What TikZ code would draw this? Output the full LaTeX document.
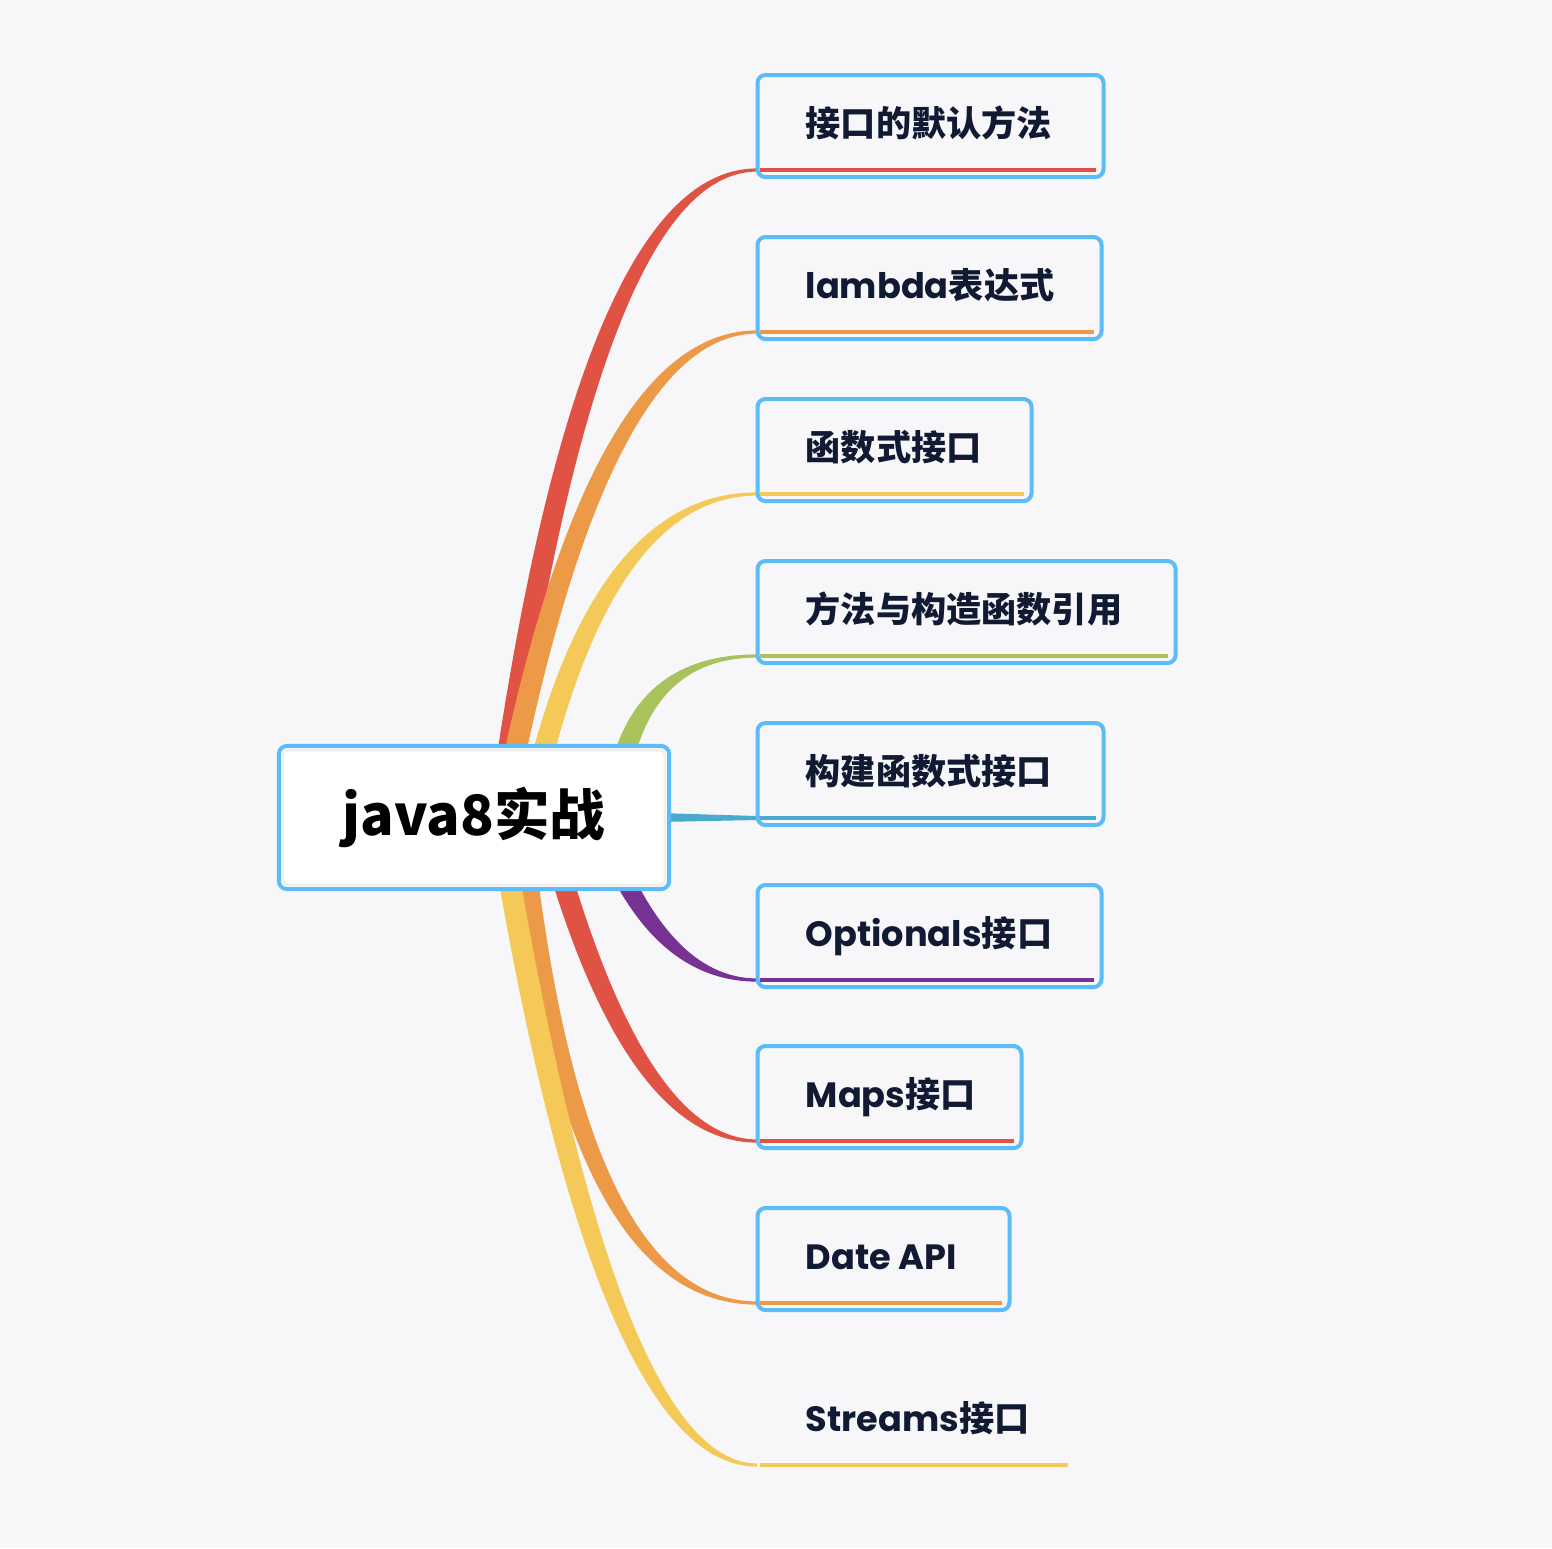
\documentclass[tikz,border=0pt]{standalone}
\usepackage{fontspec}
\usetikzlibrary{calc,backgrounds}
\setmainfont{Poppins}
\newfontfamily\cjk{Noto Sans CJK SC}
\definecolor{paper}{HTML}{F7F7F9}
\definecolor{boxblue}{HTML}{5CBCF7}
\definecolor{ink}{HTML}{101B33}
\definecolor{cRed}{HTML}{E05243}
\definecolor{cOrange}{HTML}{EC9A48}
\definecolor{cYellow}{HTML}{F5C957}
\definecolor{cGreen}{HTML}{A8C35B}
\definecolor{cBlue}{HTML}{4BA9CF}
\definecolor{cPurple}{HTML}{783293}
\tikzset{
  rootbox/.style={draw=boxblue, line width=0.04cm, fill=white, rounded corners=0.08cm,
    minimum width=3.9cm, minimum height=1.43cm, inner sep=0pt,
    font=\cjk\bfseries\fontsize{15.8}{20}\selectfont},
  childbox/.style={draw=boxblue, line width=0.04cm, rounded corners=0.08cm,
    minimum height=1.02cm, anchor=north west, inner sep=0pt},
  topic/.style={anchor=west, inner sep=0pt, text=ink, text height=0.8em, text depth=0.2em,
    font=\bfseries\fontsize{10}{12}\selectfont},
  uline/.style={line width=0.04cm}
}
\newcommand\tipw{1.6}
\newcommand\basew{11}

\begin{document}
\begin{tikzpicture}[x=0.01cm, y=-0.01cm]
\useasboundingbox (0,0) rectangle (1552,1548);
\node[rootbox] (root) at (474,817.5) {java8实战};
\draw[draw=black!6, line width=0.03cm, rounded corners=0.06cm]
  ([shift={(6,6)}]root.north west) rectangle ([shift={(-6,-6)}]root.south east);

\begin{scope}[on background layer]
\fill[paper] (0,0) rectangle (1552,1548);
% curved branches
\foreach \i/\ye/\sx/\cx/\sg/\col in {1/170/499/588/-1/cRed, 2/332/502/595/-1/cOrange,
    3/494/528/596/-1/cYellow, 4/656/614/625/-1/cGreen, 6/980/598/655/1/cPurple,
    7/1141/545/630/1/cRed, 8/1303/520/570/1/cOrange, 9/1465/499/604/1/cYellow}{
  \pgfmathsetmacro\dy{\sg*\tipw}
  \pgfmathsetmacro\ndy{-1*(\sg)*\tipw}
  \pgfmathsetmacro\dyy{2/3*\sg*\tipw}
  \pgfmathsetmacro\ndyy{-2/3*(\sg)*\tipw}
  \coordinate (s\i) at ($(root.center)+(\sx-474,0)$);
  \coordinate (k\i) at (\cx,\ye);
  \coordinate (e\i) at (757,\ye);
  \fill[\col] ($(s\i)+(-\basew,0)$)
    .. controls ($(s\i)!2/3!(k\i)+(-\basew,\dyy)$) and ($(e\i)!2/3!(k\i)+({-2/3*\basew},\dy)$)
    .. ($(e\i)+(0,\dy)$) -- ($(e\i)+(0,\ndy)$)
    .. controls ($(e\i)!2/3!(k\i)+({2/3*\basew},\ndy)$) and ($(s\i)!2/3!(k\i)+(\basew,\ndyy)$)
    .. ($(s\i)+(\basew,0)$) -- cycle;
}
% straight branch
\coordinate (e5) at (757,818);
\fill[cBlue] ($(root.east)+(-12,-4.5)$) -- ($(e5)+(0,-2)$) -- ($(e5)+(4,-2)$)
  -- ($(e5)+(4,2)$) -- ($(e5)+(0,2)$) -- ($(root.east)+(-12,4.5)$) -- cycle;
\end{scope}

% topics
\foreach \i/\ye/\bw/\col/\txt in {1/170/346/cRed/{\cjk 接口的默认方法},
    2/332/344/cOrange/{lambda{\cjk 表达式}}, 3/494/274/cYellow/{\cjk 函数式接口},
    4/656/418/cGreen/{\cjk 方法与构造函数引用}, 5/818/346/cBlue/{\cjk 构建函数式接口},
    6/980/344/cPurple/{Optionals{\cjk 接口}}, 7/1141/264/cRed/{Maps{\cjk 接口}},
    8/1303/252/cOrange/{Date API}}{
  \node[childbox, minimum width=\bw*0.01cm] (b\i) at (755.5,\ye-97) {};
  \node[topic] (t\i) at (805,\ye-44) {\txt};
  \coordinate (u\i) at (760,\ye);
  \draw[uline, \col] (u\i) -- ++(\bw-10,0);
}
\node[topic] (t9) at (805,1421) {Streams{\cjk 接口}};
\coordinate (u9) at (760,1465);
\draw[uline, cYellow] (u9) -- ++(308,0);
\end{tikzpicture}
\end{document}
